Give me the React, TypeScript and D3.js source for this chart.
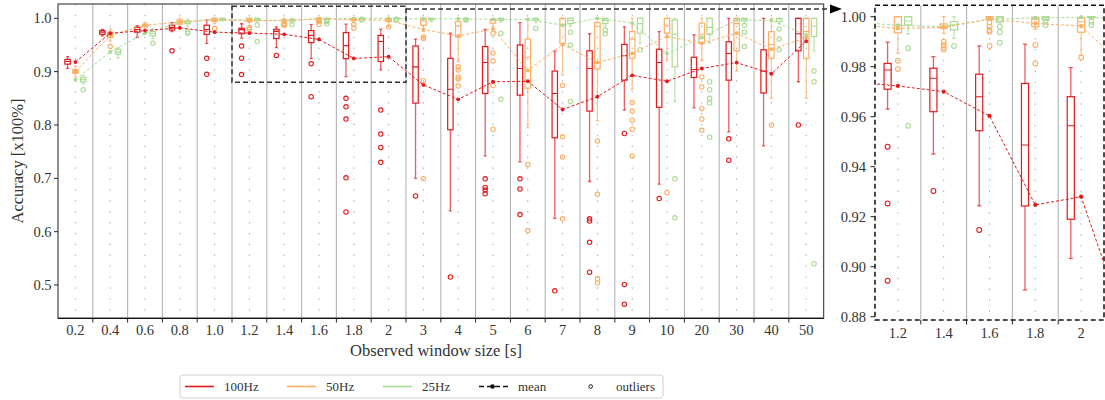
import * as d3 from "d3";

const categories = ["0.2", "0.4", "0.6", "0.8", "1.0", "1.2", "1.4", "1.6", "1.8", "2", "3", "4", "5", "6", "7", "8", "9", "10", "20", "30", "40", "50"];
const zoomCategories = ["1.2", "1.4", "1.6", "1.8", "2"];
const yTicksMain = [0.5, 0.6, 0.7, 0.8, 0.9, 1.0];
const yTicksZoom = [0.88, 0.9, 0.92, 0.94, 0.96, 0.98, 1.0];

// [whisker low, q1, median, q3, whisker high]
const box100 = [
  [0.906, 0.914, 0.919, 0.923, 0.928], [0.967, 0.970, 0.974, 0.977, 0.979], [0.964, 0.974, 0.979, 0.983, 0.986],
  [0.975, 0.978, 0.983, 0.987, 0.992], [0.953, 0.970, 0.979, 0.987, 0.997], [0.963, 0.971, 0.9787, 0.9813, 0.9898],
  [0.945, 0.962, 0.9754, 0.9794, 0.984], [0.9243, 0.9544, 0.968, 0.977, 0.9883], [0.8907, 0.9243, 0.9487, 0.9733, 0.989],
  [0.9033, 0.919, 0.9564, 0.968, 0.9796], [0.700, 0.841, 0.909, 0.948, 0.961], [0.639, 0.791, 0.867, 0.925, 0.972],
  [0.742, 0.859, 0.917, 0.947, 0.979], [0.731, 0.856, 0.906, 0.950, 0.992], [0.625, 0.776, 0.859, 0.901, 0.939],
  [0.694, 0.826, 0.906, 0.939, 0.971], [0.828, 0.884, 0.930, 0.951, 0.984], [0.689, 0.833, 0.917, 0.942, 0.975],
  [0.832, 0.889, 0.904, 0.927, 0.969], [0.787, 0.884, 0.934, 0.956, 1.0], [0.761, 0.860, 0.901, 0.941, 1.0],
  [0.881, 0.939, 0.971, 1.0, 1.0],
];
const mean100 = [0.918, 0.972, 0.977, 0.982, 0.974, 0.9723, 0.970, 0.9603, 0.9247, 0.928, 0.875, 0.848, 0.881, 0.882, 0.829, 0.853, 0.893, 0.882, 0.906, 0.917, 0.896, 0.957];
const out100 = [
  [], [], [], [0.939], [0.925, 0.895], [0.948, 0.9253, 0.8944], [0.9303], [0.9147, 0.853],
  [0.850, 0.834, 0.811, 0.701, 0.637], [0.828, 0.783, 0.758, 0.730], [0.667], [0.515],
  [0.699, 0.683, 0.678, 0.671], [0.699, 0.680, 0.632], [0.489], [0.624, 0.620, 0.580, 0.524],
  [0.784, 0.501, 0.464], [0.662], [], [0.774, 0.734], [], [0.800],
];

const box50 = [
  [0.890, 0.897, 0.900, 0.904, 0.910], [0.957, 0.964, 0.969, 0.974, 0.980], [0.980, 0.984, 0.987, 0.989, 0.993],
  [0.985, 0.989, 0.993, 0.997, 1.0], [0.990, 0.994, 0.997, 1.0, 1.0], [0.9853, 0.9936, 0.9967, 1.0, 1.0],
  [0.9933, 0.9953, 0.9962, 0.9971, 1.0], [0.9985, 0.999, 0.9995, 1.0, 1.0], [0.995, 0.996, 0.999, 0.9997, 1.0],
  [0.9845, 0.9938, 0.998, 0.9995, 1.0], [0.975, 0.987, 0.995, 1.0, 1.0], [0.919, 0.965, 0.986, 0.994, 1.0],
  [0.985, 0.991, 0.996, 0.998, 1.0], [0.795, 0.869, 0.927, 0.961, 1.0], [0.894, 0.953, 0.987, 1.0, 1.0],
  [0.808, 0.905, 0.985, 0.992, 1.0], [0.867, 0.925, 0.961, 0.975, 1.0], [0.92, 0.972, 0.987, 1.0, 1.0],
  [0.920, 0.953, 0.970, 0.991, 1.0], [0.901, 0.939, 0.990, 1.0, 1.0], [0.850, 0.925, 0.951, 0.975, 1.0],
  [0.850, 0.925, 0.975, 1.0, 1.0],
];
const mean50 = [0.900, 0.968, 0.987, 0.993, 0.997, 0.9953, 0.9957, 0.999, 0.9973, 0.9963, 0.979, 0.967, 0.980, 0.902, 0.951, 0.917, 0.934, 0.966, 0.953, 0.972, 0.942, 0.964];
const out50 = [
  [], [0.947], [], [], [0.981], [0.9824, 0.9791], [0.990, 0.9887, 0.9878, 0.9869], [0.9978, 0.996, 0.9947, 0.994, 0.9883],
  [0.9887, 0.9813], [0.9837], [0.965, 0.962, 0.883, 0.699], [0.909, 0.903, 0.890, 0.886, 0.873],
  [0.972, 0.935, 0.920, 0.874, 0.792], [0.726, 0.602], [0.874, 0.778, 0.740, 0.624], [0.770, 0.670, 0.512, 0.504],
  [0.842, 0.826, 0.809, 0.792, 0.742], [0.673], [0.890, 0.871, 0.831, 0.811, 0.790], [], [0.800], [],
];

const box25 = [
  [0.877, 0.881, 0.885, 0.889, 0.893], [0.926, 0.933, 0.937, 0.942, 0.945], [0.962, 0.967, 0.971, 0.975, 0.980],
  [0.985, 0.990, 0.993, 0.995, 0.998], [0.995, 0.997, 0.999, 1.0, 1.0], [0.993, 0.9967, 0.9983, 1.0, 1.0],
  [0.9913, 0.9947, 0.9967, 0.998, 1.0], [0.9975, 0.998, 0.9995, 1.0, 1.0], [0.9985, 0.9987, 0.9995, 1.0, 1.0],
  [0.999, 0.9995, 1.0, 1.0, 1.0], [0.994, 0.997, 0.999, 1.0, 1.0], [0.994, 0.997, 0.999, 1.0, 1.0],
  [0.993, 0.996, 0.999, 1.0, 1.0], [0.992, 0.996, 0.999, 1.0, 1.0], [0.985, 0.990, 0.996, 1.0, 1.0],
  [0.985, 0.990, 0.996, 1.0, 1.0], [0.953, 0.972, 0.990, 1.0, 1.0], [0.844, 0.909, 0.970, 0.997, 1.0],
  [0.953, 0.970, 0.983, 1.0, 1.0], [0.990, 0.995, 0.999, 1.0, 1.0], [0.990, 0.994, 0.999, 1.0, 1.0],
  [0.939, 0.966, 0.985, 1.0, 1.0],
];
const mean25 = [0.885, 0.937, 0.972, 0.992, 0.998, 0.9965, 0.996, 0.999, 0.9995, 0.9998, 0.999, 0.999, 0.998, 0.998, 0.987, 1.0, 0.991, 0.934, 0.964, 0.997, 0.996, 0.969];
const out25 = [
  [0.866], [], [0.953], [0.975, 0.972], [], [0.9874, 0.9564], [0.9883], [0.996, 0.9938, 0.9896],
  [0.998, 0.9967], [0.998, 0.9967], [], [0.997], [0.972, 0.848], [0.981], [0.974, 0.950, 0.844],
  [0.978, 0.971], [0.941], [0.699, 0.626], [0.881, 0.866, 0.850, 0.841, 0.777], [0.987, 0.974, 0.947],
  [0.980, 0.961, 0.941], [0.901, 0.881, 0.540],
];

const series = [
  { name: "100Hz", color: "#e3191c", side: -1, box: box100, mean: mean100, out: out100 },
  { name: "50Hz", color: "#fdae61", side: 0, box: box50, mean: mean50, out: out50 },
  { name: "25Hz", color: "#a9db92", side: 1, box: box25, mean: mean25, out: out25 },
];

const font = "'Liberation Serif', 'DejaVu Serif', serif";

function Panel({ x, y, cats, clipId, dotR }: any) {
  const bw = x.bandwidth();
  const boxW = bw * 0.155;
  const capW = boxW * 0.6;
  const [y0, y1] = y.range();
  const [x0, x1] = x.range();
  const idx = cats.map((c: string) => categories.indexOf(c));
  // include neighbours so the mean lines run to the clip edges
  const lo = Math.max(0, idx[0] - 1);
  const hi = Math.min(categories.length - 1, idx[idx.length - 1] + 1);
  const cx = (i: number) => x0 + (i - idx[0]) * bw + bw / 2;
  const lineIdx = d3.range(lo, hi + 1);
  return (
    <g>
      <clipPath id={clipId}>
        <rect x={x0} y={y1} width={x1 - x0} height={y0 - y1} />
      </clipPath>
      <g clipPath={`url(#${clipId})`}>
        {cats.slice(1).map((c: string) => (
          <line key={"s" + c} x1={x(c)} x2={x(c)} y1={y1} y2={y0} stroke="#b4b4b4" strokeWidth={1.1} />
        ))}
        {cats.map((c: string) => (
          <line key={"d" + c} x1={x(c) + bw / 2} x2={x(c) + bw / 2} y1={y1} y2={y0} stroke="#9a9a9a" strokeWidth={0.9} strokeDasharray="1.4,9.5" />
        ))}
        {series.map((s) => (
          <g key={s.name}>
            {idx.map((i: number) => {
              const [wl, q1, md, q3, wh] = s.box[i];
              const bx = x(categories[i]) + bw / 2 + s.side * bw * 0.225;
              return (
                <g key={i}>
                  <g stroke={s.color} strokeOpacity={0.7} strokeWidth={1.3}>
                    <line x1={bx} x2={bx} y1={y(q3)} y2={y(wh)} />
                    <line x1={bx} x2={bx} y1={y(q1)} y2={y(wl)} />
                    <line x1={bx - capW / 2} x2={bx + capW / 2} y1={y(wh)} y2={y(wh)} />
                    <line x1={bx - capW / 2} x2={bx + capW / 2} y1={y(wl)} y2={y(wl)} />
                  </g>
                  <rect x={bx - boxW / 2} y={y(q3)} width={boxW} height={Math.max(0.5, y(q1) - y(q3))} fill="none" stroke={s.color} strokeWidth={1.2} />
                  <line x1={bx - boxW / 2} x2={bx + boxW / 2} y1={y(md)} y2={y(md)} stroke={s.color} strokeWidth={1.1} />
                  {s.out[i].map((o: number, k: number) => (
                    <circle key={k} cx={bx} cy={y(o)} r={dotR + 0.3} fill="none" stroke={s.color} strokeWidth={1.1} />
                  ))}
                </g>
              );
            })}
          </g>
        ))}
        {[...series].reverse().map((s) => (
          <g key={"m" + s.name}>
            <path
              d={d3.line<number>().x((i) => cx(i)).y((i) => y(s.mean[i]))(lineIdx) || ""}
              fill="none"
              stroke={s.color}
              strokeWidth={1}
              strokeDasharray="3,2"
            />
            {idx.map((i: number) => (
              <circle key={i} cx={cx(i)} cy={y(s.mean[i])} r={dotR} fill={s.color} />
            ))}
          </g>
        ))}
      </g>
    </g>
  );
}

export default function App() {
  const x = d3.scaleBand().domain(categories).range([58, 823.6]);
  const y = d3.scaleLinear().domain([0.43757, 1.0268]).range([318.3, 4]);
  const xz = d3.scaleBand().domain(zoomCategories).range([875, 1104]);
  const yz = d3.scaleLinear().domain([0.87868, 1.00456]).range([320, 5.3]);
  const bw = x.bandwidth();
  const bwz = xz.bandwidth();

  const legend = [
    { label: "100Hz", color: "#e3191c", x: 185 },
    { label: "50Hz", color: "#fdae61", x: 287 },
    { label: "25Hz", color: "#a9db92", x: 383 },
  ];

  const rectX0 = x("1.2")!;
  const rectX1 = x("2")! + bw;
  const connY = y(1.0175);

  return (
    <svg width={1105} height={400} style={{ position: "absolute", left: 0, top: 0, background: "#fff" }} fontFamily={font}>
      <Panel x={x} y={y} cats={categories} clipId="clipMain" dotR={1.9} />
      <Panel x={xz} y={yz} cats={zoomCategories} clipId="clipZoom" dotR={2.1} />

      {/* main frame */}
      <rect x={58} y={4} width={823.6 - 58} height={318.3 - 4} fill="none" stroke="#555" strokeWidth={1.3} />
      <line x1={58} x2={823.6} y1={318.3} y2={318.3} stroke="#111" strokeWidth={1.3} />

      {yTicksMain.map((t) => (
        <g key={t}>
          <line x1={54} x2={58} y1={y(t)} y2={y(t)} stroke="#222" strokeWidth={1} />
          <text x={51.5} y={y(t)} dy="0.35em" textAnchor="end" fontSize={14.5} fill="#333">{t.toFixed(1)}</text>
        </g>
      ))}
      {categories.map((c, i) => (
        <g key={c}>
          {i > 0 && <line x1={x(c)} x2={x(c)} y1={318.3} y2={322.5} stroke="#222" strokeWidth={1} />}
          <text x={x(c)! + bw / 2} y={335} textAnchor="middle" fontSize={14.5} fill="#333">{c}</text>
        </g>
      ))}
      <text x={436} y={356} textAnchor="middle" fontSize={16.5} fill="#333">Observed window size [s]</text>
      <text transform={`translate(23,161) rotate(-90)`} textAnchor="middle" fontSize={16.5} fill="#333">Accuracy [x100%]</text>

      {/* zoom marker + connector */}
      <rect x={rectX0} y={y(1.0225)} width={rectX1 - rectX0} height={y(0.88) - y(1.0225)} fill="none" stroke="#333" strokeWidth={1.5} strokeDasharray="5,3" />
      <line x1={rectX1} x2={831} y1={connY} y2={connY} stroke="#333" strokeWidth={1.5} strokeDasharray="5,3" />
      <polygon points={`830,${connY - 4.5} 842,${connY} 830,${connY + 4.5}`} fill="#000" />

      {/* inset frame */}
      <rect x={875} y={5.3} width={1104 - 875} height={320 - 5.3} fill="none" stroke="#111" strokeWidth={1.5} strokeDasharray="5,3" />
      {yTicksZoom.map((t) => (
        <g key={t}>
          <line x1={870.5} x2={875} y1={yz(t)} y2={yz(t)} stroke="#222" strokeWidth={1} />
          <text x={866} y={yz(t)} dy="0.35em" textAnchor="end" fontSize={14.5} fill="#333">{t.toFixed(2)}</text>
        </g>
      ))}
      {zoomCategories.map((c, i) => (
        <g key={c}>
          {i > 0 && <line x1={xz(c)} x2={xz(c)} y1={320} y2={324.5} stroke="#222" strokeWidth={1} />}
          <text x={xz(c)! + bwz / 2} y={338} textAnchor="middle" fontSize={14.5} fill="#333">{c}</text>
        </g>
      ))}

      {/* legend */}
      <rect x={180} y={375} width={483} height={23} rx={3} fill="#fff" stroke="#d0d0d0" strokeWidth={1} />
      {legend.map((l) => (
        <g key={l.label}>
          <line x1={l.x} x2={l.x + 29} y1={386.5} y2={386.5} stroke={l.color} strokeWidth={1.6} />
          <text x={l.x + 39} y={386.5} dy="0.35em" fontSize={13} fill="#333">{l.label}</text>
        </g>
      ))}
      <line x1={479} x2={508} y1={386.5} y2={386.5} stroke="#111" strokeWidth={1.6} strokeDasharray="5,3" />
      <circle cx={492.5} cy={386.5} r={2.3} fill="#111" />
      <text x={518} y={386.5} dy="0.35em" fontSize={13} fill="#333">mean</text>
      <circle cx={590.7} cy={386.5} r={1.8} fill="none" stroke="#111" strokeWidth={1} />
      <text x={616} y={386.5} dy="0.35em" fontSize={13} fill="#333">outliers</text>
    </svg>
  );
}
